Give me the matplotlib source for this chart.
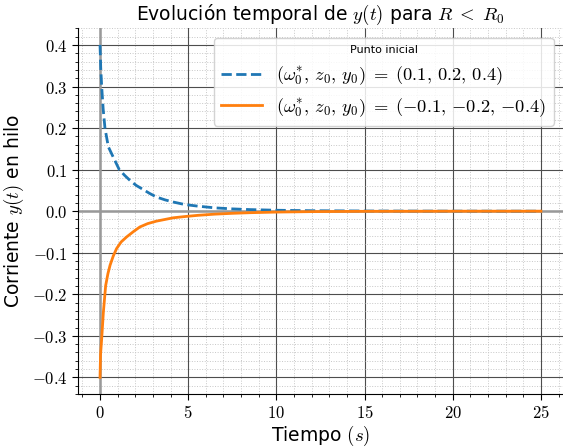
import numpy as np
import matplotlib.pyplot as plt
from matplotlib.ticker import MultipleLocator, FuncFormatter

plt.rcParams['mathtext.fontset'] = 'cm'
plt.rcParams['font.family'] = ['DejaVu Sans']

t_pos = [0.0, 0.04, 0.094, 0.18, 0.28, 0.47, 0.75, 1.09, 1.4, 1.7, 2.05, 2.45, 2.8, 3.2, 3.7,
         4.15, 4.8, 5.56, 6.5, 7.5, 8.5, 10.0, 12.0, 15.0, 20.0, 25.0]
y_pos = [0.4, 0.345, 0.3, 0.245, 0.2, 0.155, 0.13, 0.1, 0.086, 0.074, 0.062, 0.052, 0.043, 0.034, 0.027,
         0.022, 0.016, 0.012, 0.008, 0.0055, 0.0038, 0.0022, 0.0011, 0.0004, 0.0001, 0.0]

t_neg = [0.0, 0.03, 0.094, 0.19, 0.32, 0.45, 0.57, 0.75, 0.94, 1.2, 1.51, 1.9, 2.26, 2.7, 3.2,
         4.15, 4.8, 5.56, 6.5, 7.5, 8.5, 10.0, 12.0, 15.0, 20.0, 25.0]
y_neg = [-0.4, -0.345, -0.307, -0.243, -0.179, -0.15, -0.13, -0.108, -0.09, -0.074, -0.062, -0.049, -0.038, -0.03, -0.024,
         -0.016, -0.013, -0.01, -0.0072, -0.0052, -0.0037, -0.0022, -0.0011, -0.0004, -0.0001, 0.0]

lbl_pos = r'$(\omega_0^{*},\, z_0,\, y_0) \;=\; (0.1,\, 0.2,\, 0.4)$'
lbl_neg = r'$(\omega_0^{*},\, z_0,\, y_0) \;=\; ({-}0.1,\, {-}0.2,\, {-}0.4)$'

fig = plt.figure(figsize=(5.63, 4.47), dpi=100)
ax = fig.add_axes([0.1385, 0.1186, 0.8615, 0.818])

ax.plot(t_pos, y_pos, '--', color='tab:blue', lw=2, label=lbl_pos, zorder=3)
ax.plot(t_neg, y_neg, '-', color='tab:orange', lw=2, label=lbl_neg, zorder=3)
ax.axhline(0, color='0.6', lw=1.8, zorder=2)
ax.axvline(0, color='0.6', lw=1.8, zorder=2)

ax.set_xlim(-1.25, 26.25)
ax.set_ylim(-0.44, 0.44)
ax.xaxis.set_major_locator(MultipleLocator(5))
ax.xaxis.set_minor_locator(MultipleLocator(1))
ax.yaxis.set_major_locator(MultipleLocator(0.1))
ax.yaxis.set_minor_locator(MultipleLocator(0.02))
ax.xaxis.set_major_formatter(FuncFormatter(lambda v, p: r'$%d$' % round(v)))
ax.yaxis.set_major_formatter(FuncFormatter(lambda v, p: r'$%.1f$' % (0.0 if abs(v) < 1e-9 else v)))
ax.tick_params(which='major', labelsize=12, length=4)
ax.tick_params(which='minor', length=2)

ax.grid(which='major', color='0.3', lw=0.8, zorder=0)
ax.grid(which='minor', color='0.78', lw=0.7, ls=':', zorder=0)
ax.set_axisbelow(True)
ax.spines['top'].set_visible(False)
ax.spines['right'].set_visible(False)

ax.set_title(r'Evolución temporal de $y(t)$ para $R \;<\; R_0$', fontsize=13.5)
ax.set_xlabel(r'Tiempo $(s)$', fontsize=13.5, labelpad=1)
ax.set_ylabel(r'Corriente $y(t)$ en hilo', fontsize=13.5, labelpad=4)

leg = ax.legend(title='Punto inicial', fontsize=13.3, title_fontsize=8,
                loc='upper right', framealpha=0.85, handlelength=2.2,
                borderaxespad=0.5)

fig.savefig('out.png', dpi=100)
